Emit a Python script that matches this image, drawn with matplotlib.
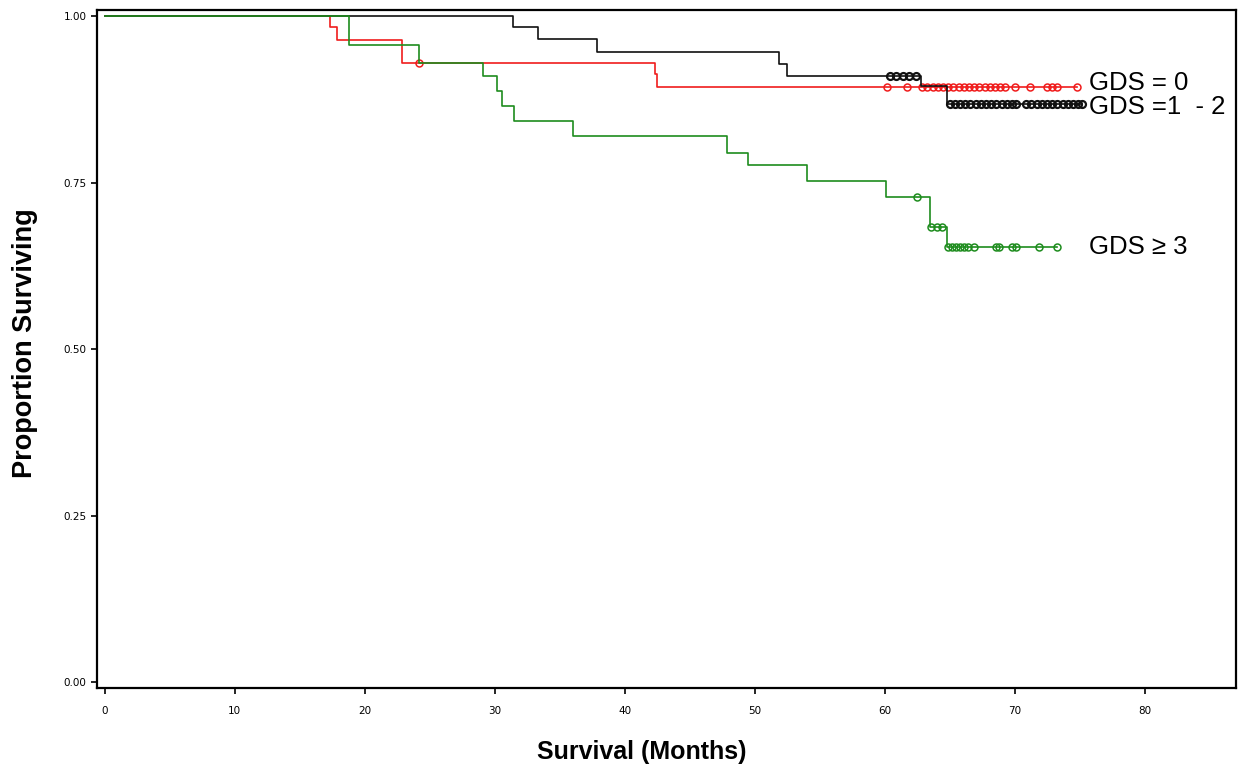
import numpy as np
import matplotlib
matplotlib.use("Agg")
import matplotlib.pyplot as plt

# Kaplan-Meier steps (months, proportion surviving)
gds0_t = [0, 17.3, 17.9, 22.9, 42.3, 42.5, 74.8]
gds0_s = [1.0, 0.984, 0.964, 0.930, 0.913, 0.894, 0.894]
gds0_cens = [24.2, 60.2, 61.7, 62.9, 63.3, 63.7, 64.1, 64.5, 64.9, 65.3, 65.7,
             66.1, 66.5, 66.9, 67.3, 67.7, 68.1, 68.5, 68.9, 69.3, 70.0, 71.2,
             72.5, 72.9, 73.3, 74.8]

gds12_t = [0, 31.4, 33.3, 37.9, 51.9, 52.5, 62.8, 64.8, 75.2]
gds12_s = [1.0, 0.984, 0.966, 0.946, 0.928, 0.910, 0.895, 0.868, 0.868]
gds12_cens = [60.4, 60.9, 61.4, 61.9, 62.4, 65.0, 65.4, 65.8, 66.2, 66.6, 67.0,
              67.4, 67.8, 68.2, 68.6, 69.0, 69.4, 69.8, 70.1, 70.9, 71.3, 71.7,
              72.1, 72.5, 72.9, 73.3, 73.7, 74.1, 74.5, 74.9, 75.2]

gds3_t = [0, 18.8, 24.2, 29.1, 30.2, 30.6, 31.5, 36.0, 47.9, 49.5, 54.0, 60.1,
          63.5, 64.8, 73.3]
gds3_s = [1.0, 0.957, 0.930, 0.910, 0.888, 0.865, 0.843, 0.820, 0.795, 0.777,
          0.753, 0.728, 0.683, 0.653, 0.653]
gds3_cens = [62.5, 63.6, 64.0, 64.4, 64.9, 65.2, 65.5, 65.8, 66.1, 66.4, 66.9,
             68.6, 68.8, 69.8, 70.1, 71.9, 73.3]

y_ticks = [0.0, 0.25, 0.5, 0.75, 1.0]
x_ticks = [0, 10, 20, 30, 40, 50, 60, 70, 80]


def surv_at(times, surv, t):
    idx = np.searchsorted(times, t, side="right") - 1
    return np.asarray(surv)[idx]


fig = plt.figure(figsize=(12.43, 7.77), dpi=100)
ax = fig.add_axes([0.078, 0.115, 0.916, 0.872])

curves = [
    (gds0_t, gds0_s, gds0_cens, "#f01c1c", 1.1),
    (gds12_t, gds12_s, gds12_cens, "#111111", 1.6),
    (gds3_t, gds3_s, gds3_cens, "#1e8c1e", 1.1),
]
for t, s, cens, col, mew in curves:
    ax.step(t, s, where="post", color=col, lw=1.2)
    ax.plot(cens, surv_at(t, s, cens), "o", ms=5, mfc="none", mec=col, mew=mew)

label_font = ["Liberation Sans", "DejaVu Sans"]
ax.text(75.7, 0.899, "GDS = 0", fontsize=18.5, family=label_font, va="center")
ax.text(75.7, 0.863, "GDS =1  - 2", fontsize=18.5, family=label_font, va="center")
ax.text(75.7, 0.653, "GDS \u2265 3", fontsize=18.5, family=label_font, va="center")

ax.set_xlim(-0.6, 87.0)
ax.set_ylim(-0.008, 1.009)
ax.set_xticks(x_ticks)
ax.set_yticks(y_ticks)
ax.set_yticklabels([f"{v:.2f}" for v in y_ticks])
ax.tick_params(axis="both", labelsize=7.5, length=4, width=1.2, direction="out")
ax.tick_params(axis="x", pad=9)
for sp in ax.spines.values():
    sp.set_linewidth(1.6)

fig.text(0.516, 0.032, "Survival (Months)", fontsize=18, fontweight="bold",
         family=label_font, ha="center", va="center")
fig.text(0.020, 0.558, "Proportion Surviving", fontsize=19.5, fontweight="bold",
         family=label_font, ha="center", va="center", rotation=90)

fig.savefig("out.png", dpi=100)
